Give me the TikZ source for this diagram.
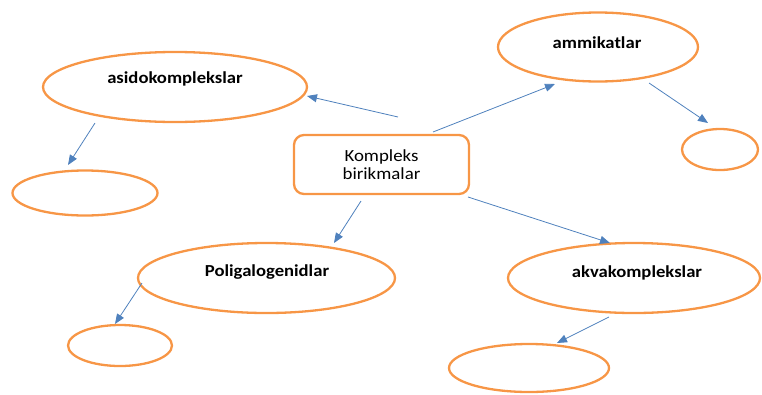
\documentclass[tikz,border=0pt]{standalone}
\usepackage{fontspec}
\setmainfont{Carlito}
\usetikzlibrary{shapes.geometric,arrows.meta}
\definecolor{org}{HTML}{F79646}
\definecolor{arr}{HTML}{4F81BD}
\newcommand{\wide}[1]{\scalebox{1.11}[1]{#1}}
\begin{document}
\begin{tikzpicture}[x=1pt,y=-1pt,
  oval/.style={ellipse, draw=org, line width=2.3pt, inner sep=0pt},
  lbl/.style={font=\fontsize{16.8}{18}\selectfont\bfseries, inner sep=0pt},
  centralbox/.style={draw=org, line width=2.3pt, rounded corners=10pt, minimum width=175pt, minimum height=59pt, align=center, font=\fontsize{17}{17.5}\selectfont},
  conn/.style={draw=arr, line width=0.8pt, -{Triangle[length=10pt,width=8pt]}}]
\useasboundingbox (0,0) rectangle (762,394);
% ovals
\node[oval, minimum width=264pt, minimum height=70pt] (asido) at (175,87) {};
\node[oval, minimum width=145pt, minimum height=45pt] (asidoS) at (85,193) {};
\node[oval, minimum width=200pt, minimum height=69pt] (ammi) at (598,47) {};
\node[oval, minimum width=76pt, minimum height=41pt] (ammiS) at (720,149.5) {};
\node[oval, minimum width=257pt, minimum height=70pt] (poli) at (266.5,278) {};
\node[oval, minimum width=104pt, minimum height=41pt] (poliS) at (120,345.5) {};
\node[oval, minimum width=252pt, minimum height=70pt] (akva) at (634,278) {};
\node[oval, minimum width=160pt, minimum height=48pt] (akvaS) at (529,368) {};
% central box
\node[centralbox] (box) at (381.5,164.5) {\wide{Kompleks}\\\wide{birikmalar}};
% labels
\node[lbl] (asidoT) at (175,79) {\wide{asidokomplekslar}};
\node[lbl] (ammiT) at (597,43) {\wide{ammikatlar}};
\node[lbl] (poliT) at (267,272) {\wide{Poligalogenidlar}};
\node[lbl] (akvaT) at (637,273) {\wide{akvakomplekslar}};
% connector ends
\coordinate (a1s) at (398,117); \coordinate (a1e) at (307,96);
\coordinate (a2s) at (433,132); \coordinate (a2e) at (555,84);
\coordinate (a3s) at (649,83);  \coordinate (a3e) at (708,123);
\coordinate (a4s) at (95,123);  \coordinate (a4e) at (68,165);
\coordinate (a5s) at (361,201); \coordinate (a5e) at (334,243);
\coordinate (a6s) at (142,283); \coordinate (a6e) at (115,324);
\coordinate (a7s) at (468,197); \coordinate (a7e) at (610,243);
\coordinate (a8s) at (609,317); \coordinate (a8e) at (557,343);
\draw[conn] (a1s) -- (a1e);
\draw[conn] (a2s) -- (a2e);
\draw[conn] (a3s) -- (a3e);
\draw[conn] (a4s) -- (a4e);
\draw[conn] (a5s) -- (a5e);
\draw[conn] (a6s) -- (a6e);
\draw[conn] (a7s) -- (a7e);
\draw[conn] (a8s) -- (a8e);
\end{tikzpicture}
\end{document}
